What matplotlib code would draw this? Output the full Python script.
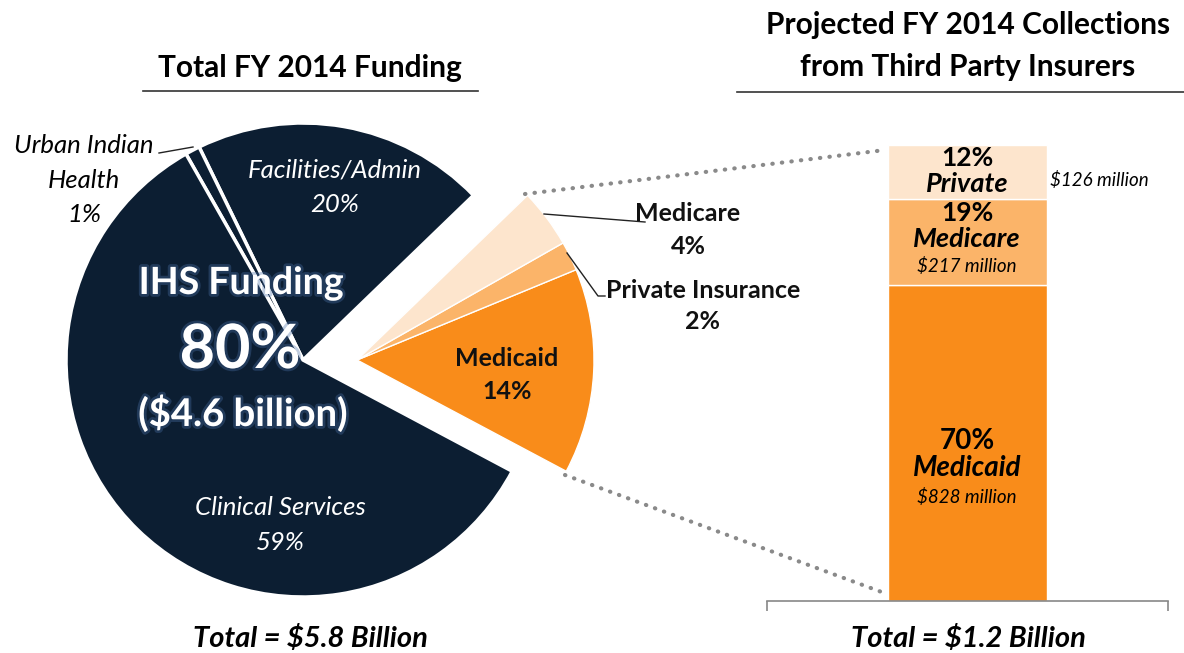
import matplotlib.pyplot as plt
import matplotlib.patheffects as pe

plt.rcParams['font.family'] = ['Lato', 'DejaVu Sans']

# left pie: share of total FY 2014 funding (%)
pie_labels = ['Medicaid', 'Private Insurance', 'Medicare',
              'Facilities/Admin', 'Urban Indian Health', 'Clinical Services']
pie_values = [14, 2, 4, 20, 1, 59]
pie_colors = ['#f98c1a', '#fbb469', '#fde5cd', '#0c1e32', '#0c1e32', '#0c1e32']
third_party = [True, True, True, False, False, False]

# right bar: projected collections
bar_labels = ['Medicaid', 'Medicare', 'Private']
bar_pct = [70, 19, 12]
bar_dollars = ['$828 million', '$217 million', '$126 million']
bar_colors = ['#f98c1a', '#fbb469', '#fde5cd']

W, H = 1184, 653
fig = plt.figure(figsize=(W / 100, H / 100), dpi=100)

# stacked bar (drawn first, underneath the annotation layer)
bx = fig.add_axes([767 / W, (H - 600.7) / H, (1168 - 767) / W, (600.7 - 145) / H])
bottom = 0
for lab, v, c in zip(bar_labels, bar_pct, bar_colors):
    bx.bar(0.5, v, width=159 / 401, bottom=bottom, color=c, edgecolor='white', linewidth=1)
    bottom += v
bx.set_xlim(0, 1)
bx.set_ylim(0, sum(bar_pct))
for s in ['top', 'left', 'right']:
    bx.spines[s].set_visible(False)
bx.spines['bottom'].set_color('#888888')
bx.spines['bottom'].set_linewidth(1.2)
bx.set_yticks([])
bx.set_xticks([0, 1])
bx.set_xticklabels(['', ''])
bx.tick_params(axis='x', length=7, width=1.2, color='#888888', direction='out')
bx.patch.set_visible(False)

ax = fig.add_axes([0, 0, 1, 1])
ax.patch.set_visible(False)


def P(x, y):
    # pixel position (from top-left) -> data coords
    return x, H - y


# dark part of the pie
wedges, _ = ax.pie(pie_values, colors=pie_colors, startangle=-28, counterclock=True,
                   radius=237, center=P(303, 360),
                   wedgeprops=dict(edgecolor='white', linewidth=2.5))
for w, tp in zip(wedges, third_party):
    w.set_visible(not tp)

# third party slices, pulled out to the right
wedges2, _ = ax.pie(pie_values, colors=pie_colors, startangle=-28, counterclock=True,
                    radius=237, center=P(357, 360),
                    wedgeprops=dict(edgecolor='white', linewidth=1))
for w, tp in zip(wedges2, third_party):
    w.set_visible(tp)

ax.set_xlim(0, W)
ax.set_ylim(0, H)
ax.set_aspect('equal')
ax.axis('off')

# titles
ax.text(*P(310, 68), 'Total FY 2014 Funding', ha='center', va='center',
        fontsize=21.5, fontweight='bold')
ax.plot([143, 478], [H - 91, H - 91], color='#333333', lw=1.2)
ax.text(*P(968, 46), 'Projected FY 2014 Collections\nfrom Third Party Insurers',
        ha='center', va='center', fontsize=21.5, fontweight='bold', linespacing=1.62)
ax.plot([737, 1184], [H - 92, H - 92], color='#333333', lw=1.2)

# pie labels
glow = [pe.withStroke(linewidth=4, foreground='#4a6fa5', alpha=0.35)]
ax.text(*P(241, 283), 'IHS Funding', ha='center', va='center', color='white',
        fontsize=27, fontweight='bold', path_effects=glow)
ax.text(*P(240, 350), '80%', ha='center', va='center', color='white',
        fontsize=44, fontweight='bold', path_effects=glow)
ax.text(*P(243, 413), '($4.6 billion)', ha='center', va='center', color='white',
        fontsize=27.5, fontweight='bold', path_effects=glow)
ax.text(*P(335, 187), 'Facilities/Admin\n20%', ha='center', va='center', color='white',
        fontsize=18.5, style='italic', linespacing=1.63)
ax.text(*P(280, 525), 'Clinical Services\n59%', ha='center', va='center', color='white',
        fontsize=18.5, style='italic', linespacing=1.66)
ax.text(*P(84, 180), 'Urban Indian\nHealth\n1%', ha='center', va='center', color='black',
        fontsize=18.5, style='italic', linespacing=1.6)
ax.plot([159, 193], [H - 153, H - 147], color='#222222', lw=1)

ax.text(*P(507, 375), 'Medicaid\n14%', ha='center', va='center', color='#111111',
        fontsize=18, fontweight='bold', linespacing=1.55)
ax.text(*P(688, 230), 'Medicare\n4%', ha='center', va='center', color='#111111',
        fontsize=18, fontweight='bold', linespacing=1.52)
ax.plot([544, 645], [H - 214, H - 222], color='#222222', lw=1)
ax.text(*P(703, 306), 'Private Insurance\n2%', ha='center', va='center', color='#111111',
        fontsize=18, fontweight='bold', linespacing=1.43)
ax.plot([567, 598, 605], [H - 253, H - 296, H - 296], color='#222222', lw=1)

# dotted connectors to the bar
ax.plot([525, 885], [H - 194, H - 150], color='#8a8a8a', lw=3, ls=(0, (0.1, 2.2)),
        dash_capstyle='round')
ax.plot([565, 887], [H - 475, H - 594], color='#8a8a8a', lw=3, ls=(0, (0.1, 2.2)),
        dash_capstyle='round')

ax.text(*P(310, 638), 'Total = $5.8 Billion', ha='center', va='center',
        fontsize=21, fontweight='bold', style='italic')
ax.text(*P(968, 638), 'Total = $1.2 Billion', ha='center', va='center',
        fontsize=21, fontweight='bold', style='italic')

# bar labels
ax.text(*P(967, 441), '70%', ha='center', va='center', fontsize=20, fontweight='bold')
ax.text(*P(967, 468), 'Medicaid', ha='center', va='center', fontsize=20,
        fontweight='bold', style='italic')
ax.text(*P(967, 497), bar_dollars[0], ha='center', va='center', fontsize=13.5, style='italic')
ax.text(*P(967, 213), '19%', ha='center', va='center', fontsize=19, fontweight='bold')
ax.text(*P(967, 239), 'Medicare', ha='center', va='center', fontsize=19.5,
        fontweight='bold', style='italic')
ax.text(*P(967, 266), bar_dollars[1], ha='center', va='center', fontsize=13.5, style='italic')
ax.text(*P(967, 158), '12%', ha='center', va='center', fontsize=19, fontweight='bold')
ax.text(*P(967, 184), 'Private', ha='center', va='center', fontsize=19.5,
        fontweight='bold', style='italic')
ax.text(*P(1050, 180), bar_dollars[2], ha='left', va='center', fontsize=13.5, style='italic')

fig.savefig('out.png', dpi=100)
